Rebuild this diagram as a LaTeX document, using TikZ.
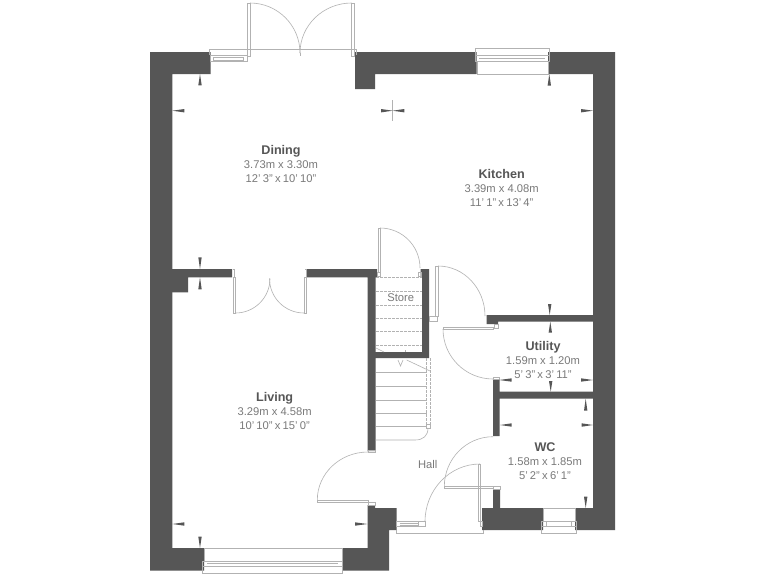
\documentclass[tikz,border=0pt]{standalone}
\usepackage{fontspec}
\setmainfont{Liberation Sans}
\definecolor{wallgray}{HTML}{565656}
\definecolor{linegray}{HTML}{B2B2B2}
\definecolor{textgray}{HTML}{7A7A7A}
\newcommand{\roomtitle}[1]{{\bfseries\fontsize{12.6}{14}\selectfont\color{wallgray}#1}}
\newcommand{\roomfeet}[1]{{\spaceskip=0.2em\relax #1}}
\tikzset{
    wall/.style={fill=wallgray, draw=none},
    thinline/.style={draw=linegray, line width=0.6pt},
    treadline/.style={draw=linegray, line width=0.6pt, dashed, dash pattern=on 2.5pt off 1.5pt},
    marktick/.style={fill=wallgray, draw=none},
    roomlabel/.style={text=textgray, align=center, font=\fontsize{11.2}{14}\selectfont}
}
\begin{document}
\begin{tikzpicture}[x=1pt, y=-1pt]
    \useasboundingbox[fill=white] (0,0) rectangle (768,576);

    % walls
    \fill[wall] (150,52) -- (210.7,52) -- (210.7,74) -- (172.3,74) -- (172.3,548) -- (204,548) -- (204,570.7) -- (150,570.7) -- cycle;
    \fill[wall] (355,52) -- (476.7,52) -- (476.7,74) -- (375,74) -- (375,89) -- (355,89) -- cycle;
    \fill[wall] (548,52) -- (615,52) -- (615,530) -- (575,530) -- (575,508) -- (593,508) -- (593,74) -- (548,74) -- cycle;
    \fill[wall] (482,508) -- (493,508) -- (493,489) -- (500,489) -- (500,508) -- (543,508) -- (543,530) -- (482,530) -- cycle;
    \fill[wall] (493,379) -- (499.5,379) -- (499.5,391.7) -- (593,391.7) -- (593,398.7) -- (499.5,398.7) -- (499.5,436) -- (493,436) -- cycle;
    \fill[wall] (486.7,315) -- (593,315) -- (593,321.7) -- (498,321.7) -- (498,324) -- (486.7,324) -- cycle;
    \fill[wall] (172,269) -- (232,269) -- (232,277.3) -- (188,277.3) -- (188,292.3) -- (172,292.3) -- cycle;
    \fill[wall] (306.7,269) -- (377,269) -- (377,277.3) -- (375.5,277.3) -- (375.5,352) -- (422,352) -- (422,277.3) -- (420.7,277.3) -- (420.7,269) -- (429,269) -- (429,358) -- (375.5,358) -- (375.5,451) -- (367.5,451) -- (367.5,277.3) -- (306.7,277.3) -- cycle;
    \fill[wall] (367.7,505) -- (375,505) -- (375,508) -- (396.7,508) -- (396.7,530) -- (389,530) -- (389,570.7) -- (342,570.7) -- (342,548) -- (367.7,548) -- cycle;

    % patio doors
    \draw[thinline] (209,55) -- (209,49.3) -- (356,49.3) -- (356,55);
    \draw[thinline] (247.3,3) rectangle (250,56);
    \draw[thinline] (351.7,3) rectangle (354,56);
    \draw[thinline] (250,3) arc[start angle=90, end angle=0, radius=50pt];
    \draw[thinline] (351.7,3) arc[start angle=90, end angle=180, x radius=51.7pt, y radius=50pt];
    \draw[thinline] (300,53) -- (300,56);
    \draw[thinline] (210,55) rectangle (247.3,61.7);
    \draw[thinline] (213,57) rectangle (243,60);

    % kitchen window
    \draw[thinline] (475,48.3) rectangle (549,61);
    \draw[thinline] (475,55) -- (549,55);
    \draw[thinline] (479,58) -- (545,58);
    \draw[thinline] (477,61) -- (477,74) -- (548,74) -- (548,61);

    % living room doors
    \draw[thinline] (232.5,269) -- (234,269) -- (234,277);
    \draw[thinline] (305,269) -- (306.7,269) -- (306.7,277);
    \draw[thinline] (233.3,277) rectangle (235.5,313);
    \draw[thinline] (304,277) rectangle (306,313);
    \draw[thinline] (235.5,313) arc[start angle=-90, end angle=0, radius=34.5pt];
    \draw[thinline] (304,313) arc[start angle=-90, end angle=-180, radius=34.5pt];

    % store door
    \draw[thinline] (378.3,228) rectangle (380,272);
    \draw[thinline] (377,272) rectangle (380,276);
    \draw[thinline] (380,228) arc[start angle=90, end angle=0, radius=40pt];
    \draw[thinline] (418.5,272) rectangle (421,276);

    % kitchen door
    \draw[thinline] (435.7,266) rectangle (438,316);
    \draw[thinline] (438,266) arc[start angle=90, end angle=0, x radius=47pt, y radius=50pt];
    \draw[thinline] (429,316) rectangle (437,321);

    % utility door
    \draw[thinline] (443,327.3) rectangle (493,329);
    \draw[thinline] (443,329) arc[start angle=180, end angle=270, x radius=50pt, y radius=50pt];
    \draw[thinline] (494,324) rectangle (498,328);
    \draw[thinline] (493,377) rectangle (499,379);

    % store treads
    \foreach \tready in {277.3,291,305,318.3,331.7,345} {
        \draw[treadline] (376,\tready) -- (422,\tready);
    }
    % stairs
    \foreach \tready in {372.7,386,400,413.5,426.7} {
        \draw[thinline] (375.5,\tready) -- (426.7,\tready);
    }
    \draw[treadline] (426.7,358) -- (426.7,424);
    \draw[treadline] (430,358) -- (430,424);
    \draw[thinline] (375.5,440) -- (415,440) .. controls (423,440) and (428,436) .. (428,428);
    \draw[thinline] (426,424) rectangle (430,428);
    \draw[thinline] (406.7,360) -- (430,371);
    \draw[thinline] (376,348) -- (384,352);
    \draw[thinline] (398,360) -- (400.5,366) -- (403,360);
    \draw[thinline] (405.5,350) -- (405.5,352);

    % front door and hall
    \draw[thinline] (317.3,500) rectangle (368,502.7);
    \draw[thinline] (317.3,500) arc[start angle=180, end angle=90, x radius=50.7pt, y radius=48pt];
    \draw[thinline] (368,450.7) rectangle (375,452.7);
    \draw[thinline] (368,502.7) rectangle (375,505);
    \draw[thinline] (396.7,521.7) rectangle (425,526.7);
    \draw[thinline] (399.5,523) -- (418,523);
    \draw[thinline] (399.5,525.5) -- (418,525.5);
    \draw[thinline] (418,521.7) -- (418,526.7);
    \draw[thinline] (396,530) -- (396,533.3) -- (483,533.3) -- (483,530);
    \draw[thinline] (425,521.7) arc[start angle=180, end angle=90, x radius=55pt, y radius=57.7pt];
    \draw[thinline] (478.3,464) rectangle (480.5,521.7);
    \draw[thinline] (480,521.7) rectangle (482,526);

    % WC door
    \draw[thinline] (444.3,486.7) rectangle (493,488.7);
    \draw[thinline] (444.3,486.7) arc[start angle=180, end angle=90, x radius=48.7pt, y radius=50pt];
    \draw[thinline] (493,486.7) rectangle (500,489);

    % WC window
    \draw[thinline] (541.7,521.7) rectangle (576,533.3);
    \draw[thinline] (546,521.7) rectangle (571.7,526.7);
    \draw[thinline] (541.7,526.7) -- (576,526.7);
    \draw[thinline] (543,521.7) -- (543,508) -- (575,508) -- (575,521.7);

    % living room window
    \draw[thinline] (202.3,561) rectangle (342.7,573.3);
    \draw[thinline] (202.3,566) -- (342.7,566);
    \draw[thinline] (207,563.5) -- (338,563.5);
    \draw[thinline] (204,561) -- (204,548) -- (342,548) -- (342,561);

    % cross line in the dining room
    \draw[thinline] (392.7,100) -- (392.7,120.7);

    % ticks pointing left or right: tip x, base x, y
    \foreach \tipx/\basex/\ticky in {172.3/184.3/110.7, 392.7/381/110.7, 392.7/404.3/110.7, 593/581/110.7,
        499/511.7/380, 593/581/380, 500/511.7/425, 593/581.7/425, 172.3/184.3/524, 367.5/355/524} {
        \fill[marktick] (\tipx,\ticky) -- (\basex,\ticky-1.7) -- (\basex,\ticky+1.7) -- cycle;
    }
    % ticks pointing up or down: x, tip y, base y
    \foreach \tickx/\tipy/\basey in {200/74/85.3, 549.3/74/85.7, 200/269/257.3, 200/277.3/289.3, 549.7/315/304,
        550.3/321.7/332.7, 550.7/391.7/381, 585.7/398.7/410.7, 585.7/508/496.7, 200/548/536.7} {
        \fill[marktick] (\tickx,\tipy) -- (\tickx-1.7,\basey) -- (\tickx+1.7,\basey) -- cycle;
    }

    % room names
    \node (dining) [roomlabel] at (281,164) {\roomtitle{Dining}\\3.73m x 3.30m\\\roomfeet{12' 3" x 10' 10"}};
    \node (kitchen) [roomlabel] at (501.7,188) {\roomtitle{Kitchen}\\3.39m x 4.08m\\\roomfeet{11' 1" x 13' 4"}};
    \node (living) [roomlabel] at (274.6,411) {\roomtitle{Living}\\3.29m x 4.58m\\\roomfeet{10' 10" x 15' 0"}};
    \node (utility) [roomlabel] at (543,360) {\roomtitle{Utility}\\1.59m x 1.20m\\\roomfeet{5' 3" x 3' 11"}};
    \node (wc) [roomlabel] at (545,461) {\roomtitle{WC}\\1.58m x 1.85m\\\roomfeet{5' 2" x 6' 1"}};
    \node (store) [roomlabel] at (400.7,298) {Store};
    \node (hall) [roomlabel] at (427.7,464) {Hall};
\end{tikzpicture}
\end{document}
